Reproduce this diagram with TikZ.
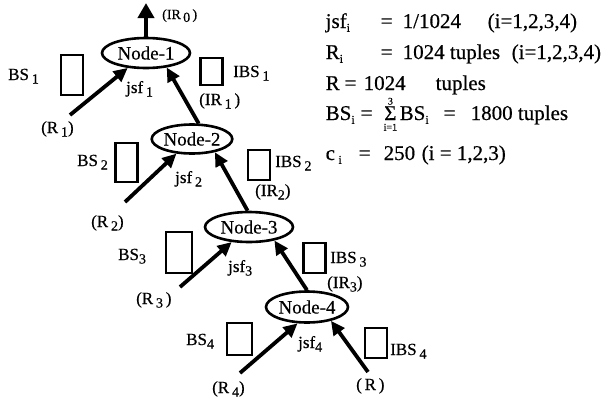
\documentclass[tikz,border=0pt]{standalone}
\usepackage{fontspec}
\setmainfont{Liberation Serif}[FakeBold=0.5]
\usetikzlibrary{arrows.meta,shapes.geometric}
\newcommand{\lsub}[1]{\raisebox{-0.45ex}{\fontsize{14}{14}\selectfont #1}}
\newcommand{\tsub}[1]{\raisebox{-0.4ex}{\fontsize{12}{12}\selectfont #1}}
\newcommand{\putat}[2]{\makebox[0pt][l]{\hspace{#1}#2}}
\newcommand{\mysum}{\ooalign{\hfil\raisebox{15.5pt}{\fontsize{10}{10}\selectfont 3}\hfil\cr\hfil Σ\hfil\cr\hfil\raisebox{-10.5pt}{\fontsize{10}{10}\selectfont i=1}\hfil\cr}}
\begin{document}
\begin{tikzpicture}[x=1pt,y=-1pt,
  nodeell/.style={ellipse, draw, line width=2.6pt, minimum width=84pt, minimum height=30pt, inner sep=0pt, font=\fontsize{19}{19}\selectfont},
  buf/.style={draw, line width=2.5pt, minimum width=22pt, minimum height=38pt, inner sep=0pt},
  arr/.style={line width=3.8pt, -{Triangle[length=14pt,width=13pt]}},
  lbl/.style={anchor=base west, inner sep=0pt, font=\fontsize{17}{17}\selectfont},
  txt/.style={anchor=base west, inner sep=0pt, font=\fontsize{21}{21}\selectfont}]
\useasboundingbox (0,0) rectangle (616,402);
\fill[white] (0,0) rectangle (616,402);
% nodes
\node[nodeell, minimum width=88pt] (n1) at (146,53) {Node-1};
\node[nodeell, minimum width=80pt, minimum height=29pt] (n2) at (192,139) {Node-2};
\node[nodeell, minimum width=88pt] (n3) at (249,227) {Node-3};
\node[nodeell, minimum width=82pt, minimum height=31pt] (n4) at (307,307) {Node-4};
% buffers
\node[buf, minimum height=40pt] (bs1) at (72,75) {};
\node[buf, minimum height=27pt] (ibs1) at (211.5,71.5) {};
\node[buf, minimum height=39pt] (bs2) at (126.5,162.5) {};
\node[buf, minimum height=30pt] (ibs2) at (259,165) {};
\node[buf, minimum width=26pt, minimum height=41pt] (bs3) at (179,252.5) {};
\node[buf, minimum height=30pt] (ibs3) at (314.5,258) {};
\node[buf, minimum width=25pt, minimum height=32pt] (bs4) at (239.5,339) {};
\node[buf, minimum height=30pt] (ibs4) at (376,343) {};
% free ends
\coordinate (ir0) at (146,3);
\coordinate (r1s) at (70,115);
\coordinate (r2s) at (125,202);
\coordinate (r3s) at (180,287);
\coordinate (r4s) at (240,373);
\coordinate (rs) at (368,372);
% connectors
\draw[arr, -{Triangle[length=15pt,width=16pt]}] (n1) -- (ir0);
\draw[arr] (r1s) -- (n1);
\draw[arr] (n2.67) -- (n1.-35);
\draw[arr] (r2s) -- (n2);
\draw[arr] (n3.95) -- (n2.-30);
\draw[arr] (r3s) -- (n3);
\draw[arr] (n4.90) -- (n3.-28);
\draw[arr] (r4s) -- (n4.-120);
\draw[arr] (rs) -- (n4.-30);
% labels
\node[lbl, font=\fontsize{14}{14}\selectfont] (lir0) at (162,19) {(IR\,\lsub{0}\,)};
\node[lbl] (lbs1) at (8,80) {BS\,\lsub{1}};
\node[lbl] (ljsf1) at (126,93) {jsf\,\lsub{1}};
\node[lbl] (libs1) at (233,77) {IBS\,\lsub{1}};
\node[lbl] (lir1) at (199,105) {(IR\,\lsub{1}\,)};
\node[lbl] (lr1) at (41,133) {(R\,\lsub{1})};
\node[lbl] (lbs2) at (77,166) {BS\,\lsub{2}};
\node[lbl] (ljsf2) at (175,183) {jsf\,\lsub{2}};
\node[lbl] (libs2) at (275,167) {IBS\,\lsub{2}};
\node[lbl] (lir2) at (255,196) {(IR\lsub{2})};
\node[lbl] (lr2) at (91,227) {(R\,\lsub{2})};
\node[lbl] (lbs3) at (118,260) {BS\lsub{3}};
\node[lbl] (ljsf3) at (228,272) {jsf\lsub{3}};
\node[lbl] (lr3) at (136,304) {(R\,\lsub{3}\,)};
\node[lbl] (libs3) at (330,263) {IBS\,\lsub{3}};
\node[lbl] (lir3) at (327,288) {(IR\lsub{3})};
\node[lbl] (lbs4) at (186,345) {BS\lsub{4}};
\node[lbl] (ljsf4) at (298,348) {jsf\lsub{4}};
\node[lbl] (libs4) at (390,355) {IBS\,\lsub{4}};
\node[lbl] (lr4) at (212,393) {(R\,\lsub{4})};
\node[lbl] (lr) at (356,390) {(\,R\,)};
% text block
\node[txt] (t1) at (325,28) {\putat{0pt}{jsf\tsub{i}}\putat{55pt}{=}\putat{77pt}{1/1024}\putat{162pt}{(i=1,2,3,4)}};
\node[txt] (t2) at (325,59) {\putat{0pt}{R\tsub{i}}\putat{55pt}{=}\putat{77pt}{1024 tuples}\putat{186pt}{(i=1,2,3,4)}};
\node[txt] (t3) at (325,90) {\putat{0pt}{R}\putat{19pt}{=}\putat{38pt}{1024}\putat{110pt}{tuples}};
\node[txt] (t4) at (325,120) {\putat{0pt}{BS\tsub{i}}\putat{35pt}{=}\putat{58pt}{\mysum}\putat{74pt}{BS\tsub{i}}\putat{118pt}{=}\putat{145pt}{1800 tuples}};
\node[txt] (t5) at (325,160) {\putat{0pt}{c\,\tsub{i}}\putat{33pt}{=}\putat{58pt}{250}\putat{96pt}{(i = 1,2,3)}};
\end{tikzpicture}
\end{document}
